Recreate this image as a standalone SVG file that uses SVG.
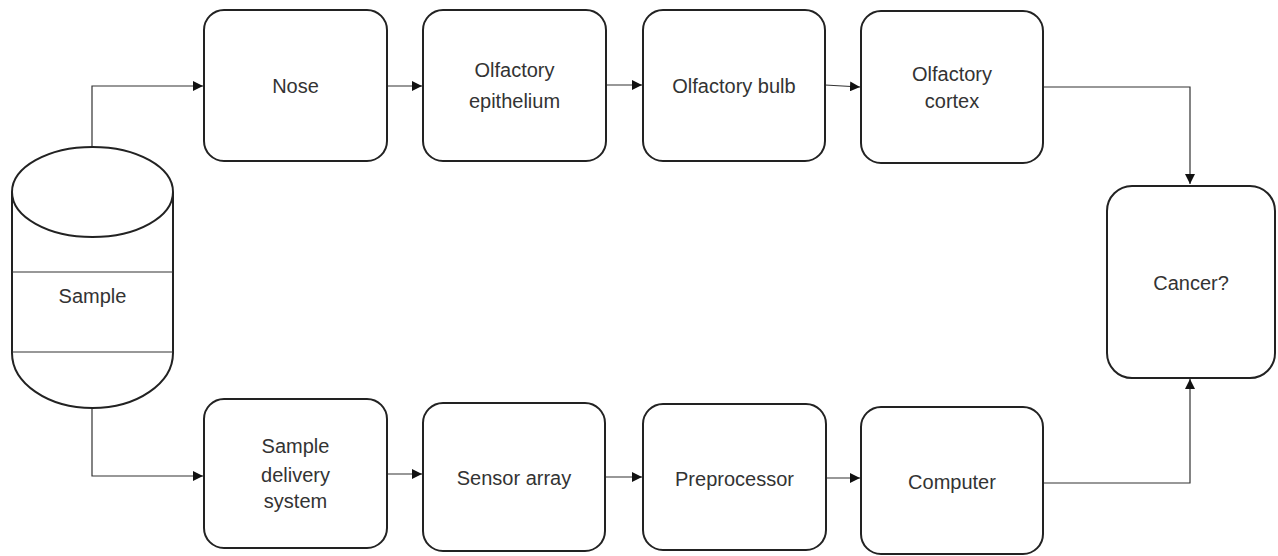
<svg xmlns="http://www.w3.org/2000/svg" width="1278" height="556" viewBox="0 0 1278 556">
<style>
.box{fill:#fff;stroke:#222;stroke-width:2}
.ln{fill:none;stroke:#333;stroke-width:1.2}
.t{font-family:"Liberation Sans",Arial,sans-serif;font-size:20px;fill:#333;text-anchor:middle}
</style>
<defs>
<marker id="ah" viewBox="0 0 10 10" refX="10" refY="5" markerWidth="10" markerHeight="10" markerUnits="userSpaceOnUse" orient="auto">
<path d="M0,0 L10,5 L0,10 Z" fill="#111"/>
</marker>
</defs>
<rect width="1278" height="556" fill="#fff"/>
<g id="connectors">
<path class="ln" d="M92,148 V86 H203" marker-end="url(#ah)"/>
<path class="ln" d="M387,86 H422" marker-end="url(#ah)"/>
<path class="ln" d="M606,85 H642" marker-end="url(#ah)"/>
<path class="ln" d="M825,85 L860,87" marker-end="url(#ah)"/>
<path class="ln" d="M1043,87 H1190 V184" marker-end="url(#ah)"/>
<path class="ln" d="M92,408 V476 H203" marker-end="url(#ah)"/>
<path class="ln" d="M387,474 H422" marker-end="url(#ah)"/>
<path class="ln" d="M605,477 H642" marker-end="url(#ah)"/>
<path class="ln" d="M826,478 H860" marker-end="url(#ah)"/>
<path class="ln" d="M1043,483 H1190 V379" marker-end="url(#ah)"/>
</g>
<g id="sample">
<path class="box" d="M12,192 V353 A80.5,55 0 0 0 173,353 V192"/>
<ellipse class="box" cx="92.5" cy="192" rx="80.5" ry="45"/>
<line x1="12" y1="272" x2="173" y2="272" stroke="#333" stroke-width="1.2"/>
<line x1="12" y1="352" x2="173" y2="352" stroke="#333" stroke-width="1.2"/>
<text class="t" x="92.5" y="303">Sample</text>
</g>
<g id="nose">
<rect class="box" x="204" y="10" width="183" height="151" rx="20"/>
<text class="t" x="295.5" y="93">Nose</text>
</g>
<g id="epithelium">
<rect class="box" x="423" y="10" width="183" height="151" rx="20"/>
<text class="t" x="514.5" y="77">Olfactory</text>
<text class="t" x="514.5" y="108">epithelium</text>
</g>
<g id="bulb">
<rect class="box" x="643" y="10" width="182" height="151" rx="20"/>
<text class="t" x="734" y="93">Olfactory bulb</text>
</g>
<g id="cortex">
<rect class="box" x="861" y="11" width="182" height="152" rx="20"/>
<text class="t" x="952" y="81">Olfactory</text>
<text class="t" x="952" y="108">cortex</text>
</g>
<g id="cancer">
<rect class="box" x="1107" y="186" width="168" height="192" rx="25"/>
<text class="t" x="1191" y="290">Cancer?</text>
</g>
<g id="delivery">
<rect class="box" x="204" y="399" width="183" height="149" rx="20"/>
<text class="t" x="295.5" y="453">Sample</text>
<text class="t" x="295.5" y="482">delivery</text>
<text class="t" x="295.5" y="508">system</text>
</g>
<g id="sensor">
<rect class="box" x="423" y="403" width="182" height="148" rx="20"/>
<text class="t" x="514" y="485">Sensor array</text>
</g>
<g id="preprocessor">
<rect class="box" x="643" y="404" width="183" height="146" rx="20"/>
<text class="t" x="734.5" y="486">Preprocessor</text>
</g>
<g id="computer">
<rect class="box" x="861" y="407" width="182" height="147" rx="20"/>
<text class="t" x="952" y="489">Computer</text>
</g>
</svg>
